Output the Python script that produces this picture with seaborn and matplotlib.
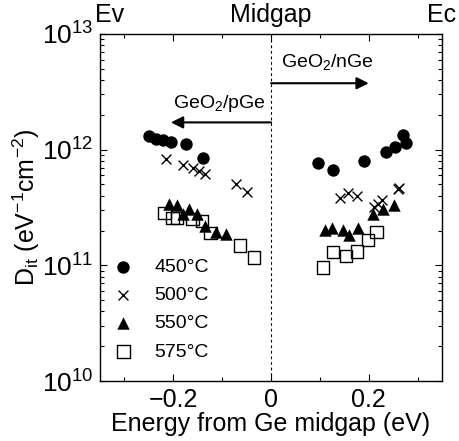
import numpy as np
import pandas as pd
import matplotlib
matplotlib.use("Agg")
import matplotlib.pyplot as plt
import seaborn as sns
from matplotlib.ticker import MultipleLocator, LogLocator

sns.set_theme(style="ticks")
plt.rcParams['font.family'] = ['Liberation Sans', 'DejaVu Sans']
plt.rcParams['mathtext.fontset'] = 'custom'
plt.rcParams['mathtext.rm'] = 'Liberation Sans'
plt.rcParams['mathtext.it'] = 'Liberation Sans:italic'
plt.rcParams['mathtext.bf'] = 'Liberation Sans:bold'
for k in ['text.color', 'axes.labelcolor', 'xtick.color', 'ytick.color',
          'axes.edgecolor']:
    plt.rcParams[k] = 'black'

# ---- data (energy from midgap in eV, Dit in eV^-1 cm^-2) ----
e_450 = [-0.25, -0.235, -0.222, -0.205, -0.175, -0.140,
         0.096, 0.127, 0.190, 0.235, 0.253, 0.271, 0.276]
d_450 = [1.3e12, 1.24e12, 1.2e12, 1.17e12, 1.12e12, 0.85e12,
         7.7e11, 6.7e11, 8.0e11, 9.6e11, 1.06e12, 1.35e12, 1.15e12]

e_500 = [-0.215, -0.180, -0.160, -0.148, -0.135, -0.071, -0.049,
         0.141, 0.157, 0.176, 0.210, 0.218, 0.227, 0.259, 0.262]
d_500 = [8.3e11, 7.4e11, 7.0e11, 6.6e11, 6.2e11, 5.06e11, 4.32e11,
         3.8e11, 4.2e11, 4.0e11, 3.2e11, 3.4e11, 3.7e11, 4.6e11, 4.7e11]

e_550 = [-0.208, -0.192, -0.180, -0.167, -0.151, -0.135, -0.112, -0.092,
         0.110, 0.124, 0.147, 0.159, 0.178, 0.208, 0.229, 0.251]
d_550 = [3.39e11, 3.33e11, 2.78e11, 3.07e11, 2.78e11, 2.18e11, 1.94e11, 1.86e11,
         2.01e11, 2.10e11, 2.01e11, 1.82e11, 2.10e11, 2.77e11, 3.07e11, 3.33e11]

e_575 = [-0.218, -0.202, -0.192, -0.161, -0.141, -0.124, -0.063, -0.035,
         0.106, 0.127, 0.153, 0.176, 0.198, 0.216]
d_575 = [2.83e11, 2.56e11, 2.56e11, 2.51e11, 2.41e11, 1.90e11, 1.49e11, 1.17e11,
         0.96e11, 1.30e11, 1.20e11, 1.32e11, 1.65e11, 1.94e11]

labels = ["450\u00b0C", "500\u00b0C", "550\u00b0C", "575\u00b0C"]

fig = plt.figure(figsize=(4.59, 4.41), dpi=100)
ax = fig.add_axes([0.218, 0.136, 0.745, 0.787])

ms = 80
sns.scatterplot(x=e_450, y=d_450, ax=ax, marker='o', s=ms, color='black',
                edgecolor='black', linewidth=0, label=labels[0], zorder=3)
sns.scatterplot(x=e_500, y=d_500, ax=ax, marker='x', s=50, color='black',
                linewidth=1.0, label=labels[1], zorder=3)
sns.scatterplot(x=e_550, y=d_550, ax=ax, marker='^', s=ms, color='black',
                edgecolor='black', linewidth=0, label=labels[2], zorder=3)
sns.scatterplot(x=e_575, y=d_575, ax=ax, marker='s', s=ms, facecolors='none',
                edgecolor='black', linewidth=1.0, label=labels[3], zorder=3)

ax.set_yscale('log')
ax.set_xlim(-0.35, 0.35)
ax.set_ylim(1e10, 1e13)
ax.xaxis.set_minor_locator(MultipleLocator(0.1))
ax.yaxis.set_major_locator(LogLocator(base=10, numticks=10))
ax.yaxis.set_minor_locator(LogLocator(base=10, subs=np.arange(2, 10), numticks=20))
ax.set_xticks([-0.2, 0, 0.2])
ax.set_xticklabels(["\u22120.2", "0", "0.2"])

ax.tick_params(which='both', direction='in', top=True, right=True,
               width=0.8, color='black')
ax.tick_params(axis='x', labelsize=18, pad=5)
ax.tick_params(axis='y', labelsize=19, pad=5)
ax.tick_params(which='major', length=5)
ax.tick_params(which='minor', length=3)
for sp in ax.spines.values():
    sp.set_linewidth(1.0)
    sp.set_color('black')

ax.set_xlabel("Energy from Ge midgap (eV)", fontsize=18, labelpad=0)
ax.set_ylabel("D$_{\\rm it}$ (eV$^{-1}$cm$^{-2}$)", fontsize=18, labelpad=0)

ax.axvline(0, color='black', linestyle=(0, (2.5, 2.5)), linewidth=0.8, zorder=1)

# annotations
ax.text(0.02, 5.7e12, "GeO$_2$/nGe", fontsize=14, ha='left', va='center')
ax.annotate("", xy=(0.2, 3.75e12), xytext=(0.0, 3.75e12),
            arrowprops=dict(arrowstyle='-|>', color='black', lw=1.5,
                            mutation_scale=18, shrinkA=0, shrinkB=0))
ax.text(-0.01, 2.5e12, "GeO$_2$/pGe", fontsize=14, ha='right', va='center')
ax.annotate("", xy=(-0.205, 1.72e12), xytext=(0.0, 1.72e12),
            arrowprops=dict(arrowstyle='-|>', color='black', lw=1.5,
                            mutation_scale=18, shrinkA=0, shrinkB=0))

ax.text(-0.33, 1.055, "Ev", transform=ax.get_xaxis_transform(), fontsize=18,
        ha='center', va='center')
ax.text(0.0, 1.055, "Midgap", transform=ax.get_xaxis_transform(), fontsize=18,
        ha='center', va='center')
ax.text(0.35, 1.055, "Ec", transform=ax.get_xaxis_transform(), fontsize=18,
        ha='center', va='center')

leg = ax.legend(loc='lower left', bbox_to_anchor=(0.0, 0.025), frameon=False,
                fontsize=14, handletextpad=1.0, labelspacing=0.55,
                borderaxespad=0.2, handlelength=1.2)

fig.savefig("out.png", dpi=100)
